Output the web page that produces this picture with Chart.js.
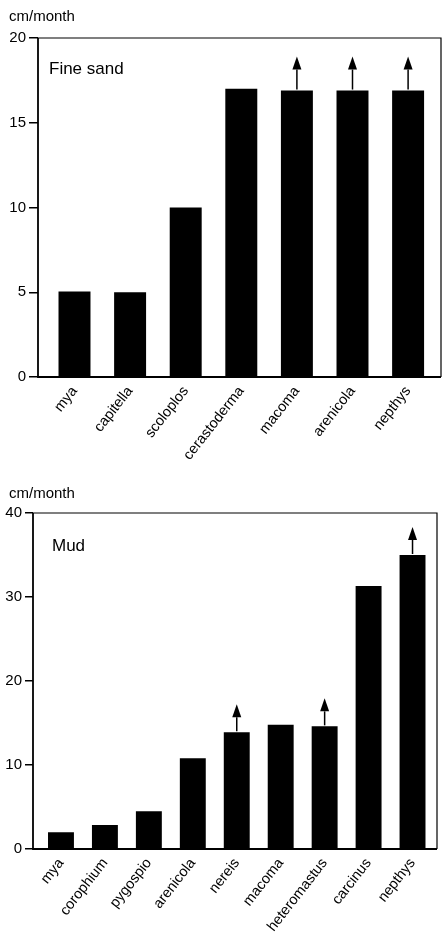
<!DOCTYPE html>
<html><head><meta charset="utf-8">
<script src="https://cdn.jsdelivr.net/npm/chart.js@4/dist/chart.umd.min.js"></script>
<style>
html,body{margin:0;padding:0;background:#fff;overflow:hidden;}
.wrap{position:absolute;left:0;width:443px;}
</style></head><body>
<div class="wrap" style="top:0;height:470px"><canvas id="c1"></canvas></div>
<div class="wrap" style="top:470px;height:471px"><canvas id="c2"></canvas></div>
<script>
// ---- data ----
const sandCategories = ["mya","capitella","scoloplos","cerastoderma","macoma","arenicola","nepthys"];
const sandValues = [5.05, 5.0, 10.0, 17.0, 16.9, 16.9, 16.9];
const sandArrows = [false, false, false, false, true, true, true];
const sandTicks = [0, 5, 10, 15, 20];

const mudCategories = ["mya","corophium","pygospio","arenicola","nereis","macoma","heteromastus","carcinus","nepthys"];
const mudValues = [2.0, 2.85, 4.5, 10.8, 13.9, 14.8, 14.6, 31.3, 35.0];
const mudArrows = [false, false, false, false, true, false, true, false, true];
const mudTicks = [0, 10, 20, 30, 40];

const yUnit = "cm/month";
const sandTitle = "Fine sand";
const mudTitle = "Mud";

const FONT = "'Liberation Sans', Arial, Helvetica, sans-serif";

const decorPlugin = {
  id: 'decor',
  afterLayout(chart) {
    const o = chart.options.plugins.decor;
    const x = chart.scales.x;
    const ca = chart.chartArea;
    x.left = ca.left + o.xInsetL;
    x.right = ca.right - o.xInsetR;
    x.configure();
    x._labelItems = null;
  },
  afterDatasetsDraw(chart) {
    const o = chart.options.plugins.decor;
    const ctx = chart.ctx;
    const ca = chart.chartArea;
    ctx.save();
    // box
    ctx.strokeStyle = '#000';
    ctx.lineWidth = 1.2;
    ctx.beginPath();
    ctx.moveTo(ca.left, ca.top);
    ctx.lineTo(ca.right, ca.top);
    ctx.lineTo(ca.right, ca.bottom);
    ctx.stroke();
    ctx.lineWidth = 1.8;
    ctx.beginPath();
    ctx.moveTo(ca.left, ca.top);
    ctx.lineTo(ca.left, ca.bottom);
    ctx.lineTo(ca.right, ca.bottom);
    ctx.stroke();
    // arrows
    const meta = chart.getDatasetMeta(0);
    o.arrows.forEach((a, i) => {
      if (!a) return;
      const el = meta.data[i];
      const bx = el.x, by = el.y;
      const tip = by - o.arrowLen;
      const base = tip + 13;
      ctx.lineWidth = 1.5;
      ctx.beginPath();
      ctx.moveTo(bx, by - 1);
      ctx.lineTo(bx, base);
      ctx.stroke();
      ctx.fillStyle = '#000';
      ctx.beginPath();
      ctx.moveTo(bx, tip);
      ctx.lineTo(bx - 4.5, base);
      ctx.lineTo(bx + 4.5, base);
      ctx.closePath();
      ctx.fill();
    });
    // texts
    ctx.fillStyle = '#000';
    ctx.textAlign = 'left';
    ctx.textBaseline = 'alphabetic';
    ctx.font = '15px ' + FONT;
    ctx.fillText(o.unit, 9, ca.top + o.unitDy);
    ctx.font = '17px ' + FONT;
    ctx.fillText(o.title, ca.left + o.titleDx, ca.top + o.titleDy);
    ctx.restore();
  }
};

function makeChart(id, cats, vals, arrows, ticks, cfg) {
  return new Chart(document.getElementById(id), {
    type: 'bar',
    data: {
      labels: cats,
      datasets: [{
        data: vals,
        backgroundColor: '#000',
        borderWidth: 0,
        barPercentage: cfg.barPct,
        categoryPercentage: 1.0
      }]
    },
    plugins: [decorPlugin],
    options: {
      responsive: true,
      maintainAspectRatio: false,
      animation: false,
      devicePixelRatio: 1,
      layout: { padding: { top: cfg.padTop, right: cfg.padRight, left: 0, bottom: 0 } },
      plugins: {
        legend: { display: false },
        tooltip: { enabled: false },
        title: { display: false },
        decor: {
          arrows: arrows, arrowLen: cfg.arrowLen, unit: yUnit, title: cfg.title,
          unitDy: cfg.unitDy, titleDx: cfg.titleDx, titleDy: cfg.titleDy,
          xInsetL: cfg.xInsetL, xInsetR: cfg.xInsetR
        }
      },
      scales: {
        x: {
          grid: { display: false, drawTicks: false },
          border: { display: false },
          ticks: {
            autoSkip: false, maxRotation: 52, minRotation: 52, padding: 6,
            color: '#000', font: { family: FONT, size: 14.5 }
          },
          afterFit(s) { s.height = cfg.xHeight; }
        },
        y: {
          min: ticks[0], max: ticks[ticks.length - 1],
          afterBuildTicks(s) { s.ticks = ticks.map(v => ({ value: v })); },
          grid: { drawOnChartArea: false, drawTicks: true, tickLength: cfg.tickLen, color: '#000', lineWidth: 1.5 },
          border: { display: false },
          ticks: { color: '#000', padding: 3, font: { family: FONT, size: 15 } },
          afterFit(s) { s.width = cfg.yWidth; }
        }
      }
    }
  });
}

makeChart('c1', sandCategories, sandValues, sandArrows, sandTicks, {
  barPct: 0.575, padTop: 38, padRight: 2, yWidth: 38, xHeight: 93, tickLen: 9,
  arrowLen: 34, title: sandTitle, unitDy: -17, titleDx: 11, titleDy: 36,
  xInsetL: 8.7, xInsetR: 5.1
});
makeChart('c2', mudCategories, mudValues, mudArrows, mudTicks, {
  barPct: 0.59, padTop: 43, padRight: 6, yWidth: 33, xHeight: 92, tickLen: 8,
  arrowLen: 28, title: mudTitle, unitDy: -15, titleDx: 19, titleDy: 38,
  xInsetL: 6.0, xInsetR: 2.5
});
</script>
</body></html>
